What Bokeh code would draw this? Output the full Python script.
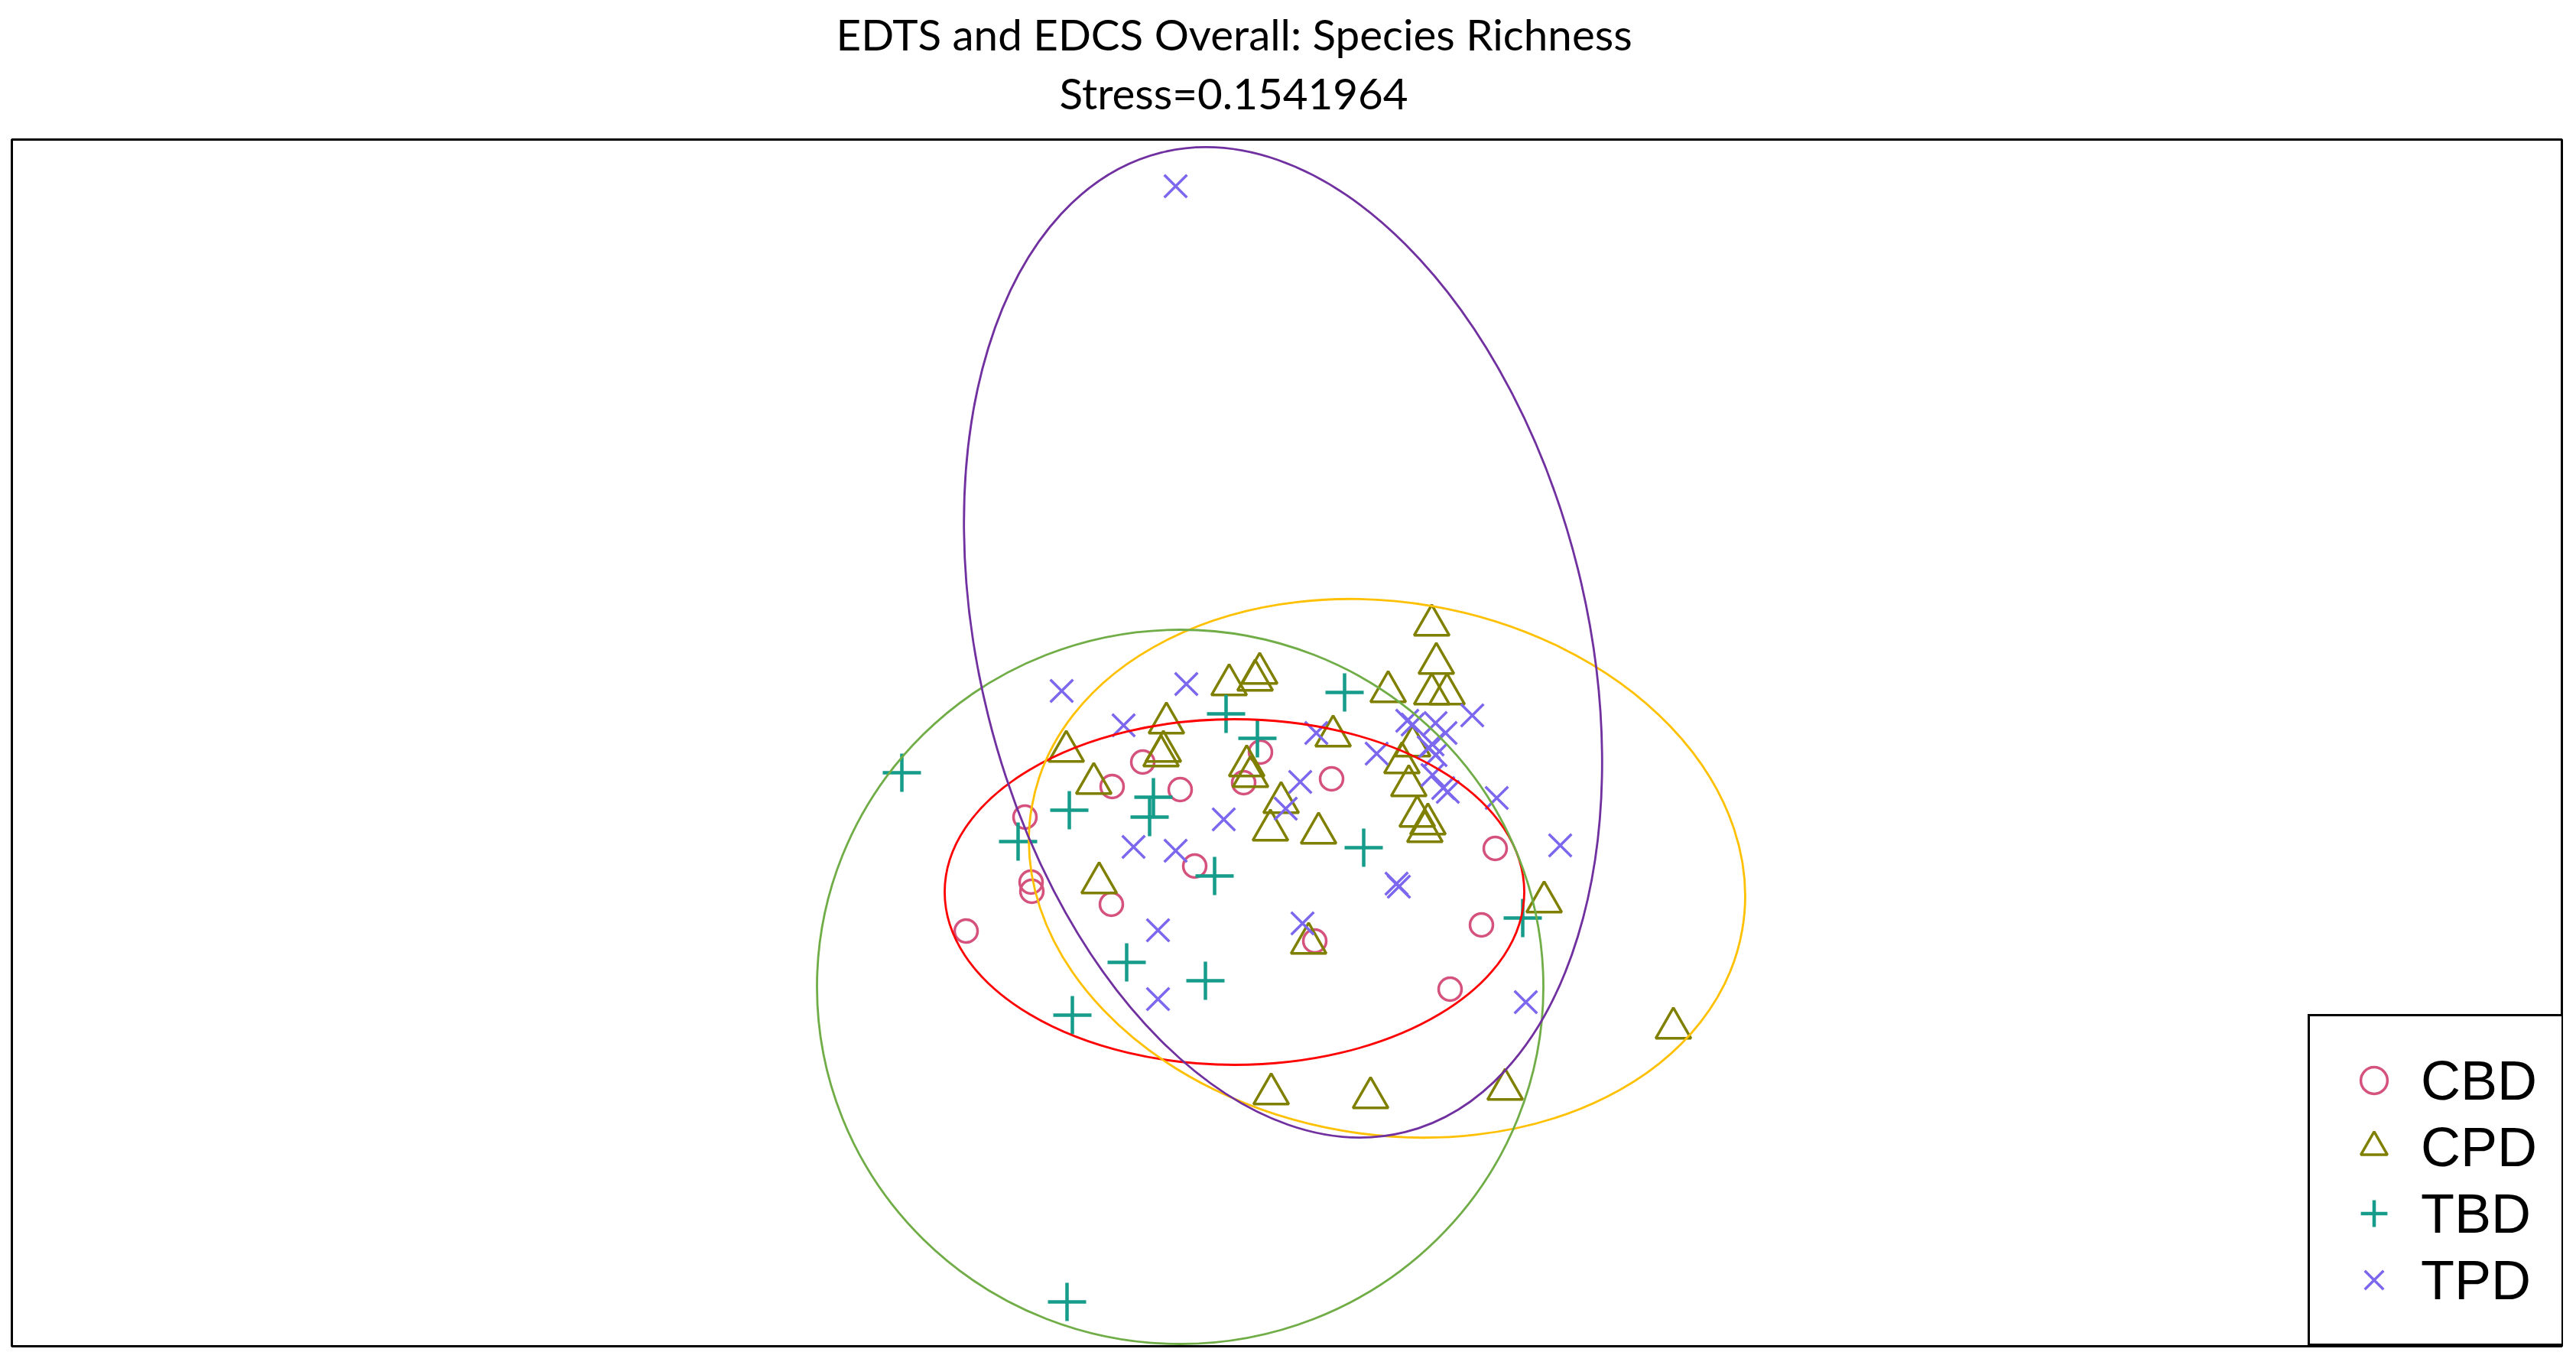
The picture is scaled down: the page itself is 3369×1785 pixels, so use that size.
from bokeh.plotting import figure
from bokeh.models import Range1d, Title, Legend, LegendItem
from bokeh.embed import file_html
from bokeh.resources import INLINE

# ---------------- data (NMDS scores) ----------------
title_line1 = "EDTS and EDCS Overall: Species Richness"
title_line2 = "Stress=0.1541964"
groups = ["CBD", "CPD", "TBD", "TPD"]

cbd_x = [-0.136, 0.018, -0.004, 0.111, -0.176, -0.087, -0.290, -0.068,
         -0.282, -0.281, -0.177, -0.367, 0.089, 0.325, 0.307, 0.266]
cbd_y = [0.124, 0.137, 0.097, 0.102, 0.092, 0.088, 0.052, -0.012,
         -0.033, -0.045, -0.062, -0.097, -0.110, 0.011, -0.089, -0.173]

cpd_x = [0.242, 0.248, 0.242, 0.262, 0.185, -0.023, 0.011, 0.017,
         0.113, -0.105, -0.109, -0.112, -0.236, -0.200, 0.000, 0.005,
         0.045, 0.031, 0.094, 0.217, 0.203, 0.212, 0.223, 0.237,
         0.233, -0.193, 0.081, 0.389, 0.558, 0.032, 0.162, 0.338]
cpd_y = [0.303, 0.253, 0.213, 0.213, 0.216, 0.225, 0.231, 0.240,
         0.158, 0.175, 0.138, 0.132, 0.138, 0.096, 0.119, 0.105,
         0.071, 0.035, 0.031, 0.145, 0.123, 0.093, 0.053, 0.043,
         0.033, -0.034, -0.113, -0.059, -0.224, -0.310, -0.315, -0.304]

tbd_x = [-0.451, -0.027, 0.014, 0.128, -0.232, -0.122, -0.127, -0.299,
         -0.042, 0.153, 0.361, -0.157, -0.054, -0.228, -0.235]
tbd_y = [0.110, 0.187, 0.155, 0.215, 0.061, 0.078, 0.052, 0.020,
         -0.025, 0.012, -0.080, -0.138, -0.162, -0.207, -0.582]

tpd_x = [-0.093, -0.242, -0.079, -0.161, 0.091, 0.070, 0.051, -0.030,
         -0.148, -0.093, 0.073, -0.116, -0.116, 0.295, 0.210, 0.217,
         0.247, 0.260, 0.243, 0.238, 0.247, 0.170, 0.243, 0.263,
         0.257, 0.327, 0.410, 0.196, 0.199, 0.365]
tpd_y = [0.877, 0.217, 0.226, 0.172, 0.162, 0.098, 0.063, 0.049,
         0.013, 0.008, -0.087, -0.096, -0.186, 0.185, 0.178, 0.173,
         0.175, 0.162, 0.147, 0.143, 0.133, 0.135, 0.107, 0.085,
         0.090, 0.077, 0.015, -0.035, -0.039, -0.190]

# group ellipses (centre, full axes, rotation in degrees)
ell_x = [-0.016, 0.1835, -0.087, 0.0475]
ell_y = [-0.046, -0.015, -0.170, 0.2805]
ell_w = [0.758, 0.943, 0.950, 1.320]
ell_h = [0.452, 0.696, 0.934, 0.795]
ell_angle = [0.0, -9.8, 0.0, 104.0]

# ---------------- styling ----------------
point_colors = ["#D4527C", "#7F7F00", "#169C8A", "#7B68EE"]
ellipse_colors = ["#FF0000", "#FFC000", "#70AD47", "#7030A0"]

p = figure(width=3361, height=1777,
           x_range=Range1d(-1.615, 1.720), y_range=Range1d(-0.640, 0.938),
           output_backend="svg", toolbar_location=None,
           x_axis_location=None, y_axis_location=None,
           min_border_left=15, min_border_right=11,
           min_border_top=182, min_border_bottom=17)
p.grid.visible = False
p.outline_line_color = "black"
p.outline_line_width = 3
p.outline_line_alpha = 1.0
p.background_fill_color = "white"

r_cbd = p.scatter(cbd_x, cbd_y, marker="circle", size=30, fill_color=None,
                  line_color=point_colors[0], line_width=3.5)
r_cpd = p.scatter(cpd_x, cpd_y, marker="triangle", size=46, fill_color=None,
                  line_color=point_colors[1], line_width=3.5)
r_tbd = p.scatter(tbd_x, tbd_y, marker="cross", size=50, fill_color=None,
                  line_color=point_colors[2], line_width=4.5)
r_tpd = p.scatter(tpd_x, tpd_y, marker="x", size=42, fill_color=None,
                  line_color=point_colors[3], line_width=3.5)

p.ellipse(x=ell_x, y=ell_y, width=ell_w, height=ell_h, angle=ell_angle,
          angle_units="deg", fill_color=None, line_color=ellipse_colors,
          line_width=2.8)

# two-line title (first added sits closest to the frame)
p.add_layout(Title(text=title_line2, align="left", offset=1370,
                   text_font="Lato", text_font_size="56.5px",
                   text_font_style="normal", text_color="black",
                   standoff=56), "above")
p.add_layout(Title(text=title_line1, align="left", offset=1078,
                   text_font="Lato", text_font_size="56.5px",
                   text_font_style="normal", text_color="black",
                   standoff=-42), "above")

legend = Legend(items=[LegendItem(label=g, renderers=[r])
                       for g, r in zip(groups, [r_cbd, r_cpd, r_tbd, r_tpd])],
                location=(3003, 0), orientation="vertical",
                padding=40, spacing=0, margin=0,
                glyph_width=87, glyph_height=87, label_height=87,
                label_standoff=18,
                label_text_font="Liberation Sans", label_text_font_size="72px",
                label_text_color="black",
                border_line_color="black", border_line_width=3,
                border_line_alpha=1.0,
                background_fill_color="white", background_fill_alpha=1.0)
p.add_layout(legend)

open("out.html", "w").write(file_html(p, INLINE))
